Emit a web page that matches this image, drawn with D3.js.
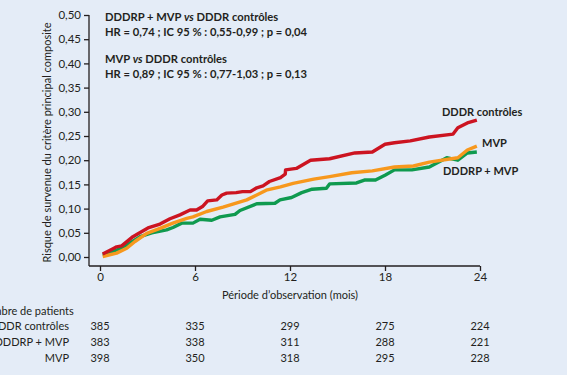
<!DOCTYPE html>
<html>
<head>
<meta charset="utf-8">
<script src="https://cdn.jsdelivr.net/npm/d3@7"></script>
<style>
  html, body { margin: 0; padding: 0; background: #e4ecf7; }
  svg { display: block; font-family: Lato, "Open Sans", sans-serif; }
</style>
</head>
<body>
<svg id="chart" width="567" height="375"></svg>
<script>
// Cumulative incidence curves, 3 pacing arms, 0-24 months

// months, value pairs
const tRed   = [0.17, 0.82, 1.05, 1.37, 2.08, 2.4, 3.03, 3.79, 4.42, 5.05, 5.69, 6.1, 6.5, 6.8, 7.37, 7.7, 8.0, 8.6, 9.0, 9.5, 9.9, 10.3, 10.7, 11.4, 11.7, 11.72, 12.4, 13.3, 14.5, 16.1, 17.2, 18.0, 18.6, 19.6, 20.8, 22.3, 22.6, 23.2, 23.8];
const vRed   = [0.006, 0.017, 0.021, 0.023, 0.042, 0.048, 0.060, 0.068, 0.079, 0.087, 0.097, 0.097, 0.105, 0.116, 0.118, 0.128, 0.132, 0.133, 0.135, 0.135, 0.143, 0.147, 0.156, 0.164, 0.171, 0.180, 0.183, 0.200, 0.203, 0.215, 0.217, 0.233, 0.236, 0.240, 0.248, 0.254, 0.267, 0.277, 0.283];

const tOrange = [0.17, 1.05, 1.69, 2.21, 2.95, 3.79, 4.6, 5.48, 5.87, 6.74, 7.77, 9.27, 10.5, 11.4, 12.2, 13.5, 14.5, 15.9, 17.2, 18.6, 19.8, 20.8, 22.6, 23.2, 23.8];
const vOrange = [0.001, 0.008, 0.018, 0.032, 0.049, 0.059, 0.070, 0.080, 0.083, 0.094, 0.103, 0.118, 0.138, 0.145, 0.152, 0.161, 0.166, 0.174, 0.178, 0.186, 0.188, 0.196, 0.205, 0.221, 0.229];

const tGreen = [0.17, 1.05, 1.69, 2.53, 3.27, 4.21, 4.61, 5.16, 5.87, 6.32, 7.06, 7.58, 8.53, 8.84, 9.9, 11.05, 11.37, 12.1, 12.74, 13.4, 14.3, 14.5, 16.2, 16.7, 17.4, 18.0, 18.6, 19.7, 20.8, 21.9, 22.6, 23.2, 23.8];
const vGreen = [0.004, 0.014, 0.025, 0.042, 0.050, 0.056, 0.061, 0.070, 0.070, 0.078, 0.076, 0.083, 0.088, 0.096, 0.110, 0.111, 0.118, 0.123, 0.133, 0.140, 0.142, 0.151, 0.153, 0.159, 0.159, 0.169, 0.180, 0.180, 0.186, 0.205, 0.200, 0.215, 0.217];

const xTicks = [0, 6, 12, 18, 24];
const yTicks = [0, 0.05, 0.10, 0.15, 0.20, 0.25, 0.30, 0.35, 0.40, 0.45, 0.50];

const seriesNames = ['DDDR contrôles', 'DDDRP + MVP', 'MVP'];
const atRisk = [
  [385, 335, 299, 275, 224],
  [383, 338, 311, 288, 221],
  [398, 350, 318, 295, 228],
];

const COLORS = { red: '#cc1421', orange: '#f7981d', green: '#0f9a4f' };
const INK = '#231f20';

const svg = d3.select('#chart');

// ── Scales ──────────────────────────────────────────────────────────────
const x = d3.scaleLinear().domain([0, 24]).range([100, 480]);
const y = d3.scaleLinear().domain([0, 0.5]).range([257, 15]);
const AXIS_X = 89, AXIS_Y = 266;

// ── Axes ────────────────────────────────────────────────────────────────
const yAxis = svg.append('g').attr('transform', `translate(${AXIS_X},0)`)
  .call(d3.axisLeft(y).tickValues(yTicks).tickSize(5).tickPadding(3)
    .tickFormat(d => d3.format('.2f')(d).replace('.', ',')));
yAxis.select('.domain').attr('d', `M0,${y(0.5)}V${AXIS_Y}`);

const xAxis = svg.append('g').attr('transform', `translate(0,${AXIS_Y})`)
  .call(d3.axisBottom(x).tickValues(xTicks).tickSize(5).tickPadding(2));
xAxis.select('.domain').attr('d', `M${AXIS_X},0H${x(24)}`);

svg.selectAll('.tick text').attr('font-size', 11.5).attr('fill', INK).attr('font-family', 'Lato, sans-serif');
svg.selectAll('.tick line, .domain').attr('stroke', INK).attr('stroke-width', 1.3);

svg.append('text')
  .attr('transform', `translate(51,${(y(0.5) + AXIS_Y) / 2 + 2}) rotate(-90)`)
  .attr('text-anchor', 'middle').attr('font-size', 11).attr('fill', INK)
  .text('Risque de survenue du critère principal composite');

svg.append('text')
  .attr('x', 290).attr('y', 299)
  .attr('text-anchor', 'middle').attr('font-size', 11).attr('fill', INK)
  .text('Période d\u2019observation (mois)');

// ── Curves ──────────────────────────────────────────────────────────────
const line = d3.line().x(d => x(d[0])).y(d => y(d[1]));
const curves = [
  { t: tGreen,  v: vGreen,  color: COLORS.green },
  { t: tOrange, v: vOrange, color: COLORS.orange },
  { t: tRed,    v: vRed,    color: COLORS.red },
];
svg.append('g').selectAll('path')
  .data(curves)
  .join('path')
  .attr('d', c => line(c.t.map((t, i) => [t, c.v[i]])))
  .attr('fill', 'none')
  .attr('stroke', c => c.color)
  .attr('stroke-width', 3.4)
  .attr('stroke-linejoin', 'round');

// ── Curve labels ────────────────────────────────────────────────────────
const bold = (sel, size = 11) => sel.attr('font-size', size).attr('font-weight', 700).attr('fill', INK);
svg.append('text').attr('x', 442).attr('y', 116).call(bold, 11).text('DDDR contrôles');
svg.append('text').attr('x', 482).attr('y', 147).call(bold, 11).text('MVP');
svg.append('text').attr('x', 443).attr('y', 175).call(bold, 11).text('DDDRP + MVP');

// ── HR annotations ──────────────────────────────────────────────────────
function note(yPos, parts) {
  const t = svg.append('text').attr('x', 105).attr('y', yPos).call(bold, 11.2);
  parts.forEach(p => t.append('tspan').attr('font-style', p[1] ? 'italic' : null).text(p[0]));
}
note(21, [['DDDRP + MVP '], ['vs', true], [' DDDR contrôles']]);
note(36, [['HR = 0,74 ; IC 95 % : 0,55-0,99 ; p = 0,04']]);
note(63, [['MVP '], ['vs', true], [' DDDR contrôles']]);
note(78, [['HR = 0,89 ; IC 95 % : 0,77-1,03 ; p = 0,13']]);

// ── Number at risk table ────────────────────────────────────────────────
svg.append('text').attr('x', -22).attr('y', 315)
  .attr('font-size', 11).attr('fill', INK).text('Nombre de patients');

const rowY = [330, 346, 362];
seriesNames.forEach((name, r) => {
  svg.append('text').attr('x', 69).attr('y', rowY[r])
    .attr('text-anchor', 'end').attr('font-size', 11).attr('fill', INK).text(name);
  svg.append('g').selectAll('text')
    .data(atRisk[r])
    .join('text')
    .attr('x', (d, i) => x(xTicks[i]))
    .attr('y', rowY[r])
    .attr('text-anchor', 'middle').attr('font-size', 11).attr('fill', INK)
    .text(d => d);
});
</script>
</body>
</html>
